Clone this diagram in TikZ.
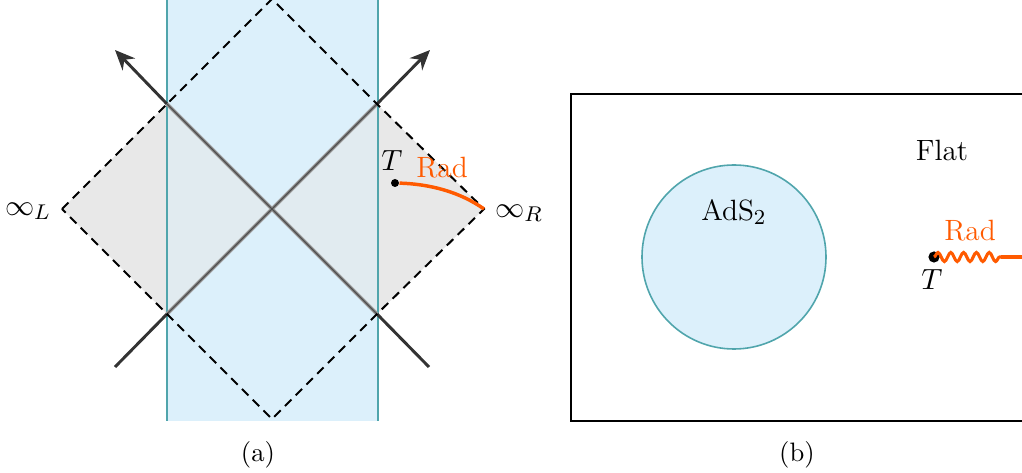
\documentclass[tikz,border=0pt]{standalone}
\usetikzlibrary{arrows.meta,decorations.pathmorphing}
\definecolor{radorange}{RGB}{255,90,0}
\definecolor{discblue}{RGB}{220,240,251}
\definecolor{overlapblue}{RGB}{225,235,240}
\definecolor{tealedge}{RGB}{80,165,172}
\definecolor{wedgegray}{RGB}{232,232,232}
\definecolor{darkline}{RGB}{51,51,51}
\tikzset{
  bound/.style={black, line width=0.75pt, dash pattern=on 3.4pt off 2.3pt},
  ray/.style={darkline, line width=1.1pt},
  rayarrow/.style={ray, -{Stealth[length=7.5pt,width=6.5pt]}},
  horizonhalo/.style={black!40, line width=1.35pt},
  horizoncore/.style={black!70, line width=0.45pt},
  radline/.style={radorange, line width=1.3pt},
  lab/.style={font=\fontsize{11}{13}\selectfont, inner sep=1pt},
  captext/.style={font=\fontsize{10}{12}\selectfont, inner sep=1pt},
  blackdot/.style={circle, fill=black, inner sep=0pt},
}
\begin{document}
\begin{tikzpicture}[x=0.375pt,y=-0.375pt]
\useasboundingbox (0,0) rectangle (1022,473);
\clip (0,0) rectangle (1022,473);
% ---------- (a) ----------
\coordinate (C) at (272,209);
\coordinate (infL) at (62,209);
\coordinate (infRc) at (484,209);
\coordinate (UL) at (167,104);
\coordinate (UR) at (377,104);
\coordinate (LL) at (167,314);
\coordinate (LR) at (377,314);
\coordinate (Top) at (272,-1);
\coordinate (Bot) at (272,419);
% strip
\fill[discblue] (167,-5) rectangle (378,421);
% gray wedges
\fill[wedgegray] (infL) -- (UL) -- (C) -- (LL) -- cycle;
\fill[wedgegray] (infRc) -- (UR) -- (C) -- (LR) -- cycle;
\fill[overlapblue] (UL) -- (C) -- (LL) -- cycle;
\fill[overlapblue] (UR) -- (C) -- (LR) -- cycle;
\draw[tealedge, line width=0.5pt] (167,-5) -- (167,421);
\draw[tealedge, line width=0.5pt] (378,-5) -- (378,421);
% rays
\coordinate (ArL) at (115,50);
\coordinate (ArR) at (430,50);
\coordinate (EnL) at (115,367);
\coordinate (EnR) at (429,367);
\draw[rayarrow] (UL) -- (ArL);
\draw[rayarrow] (UR) -- (ArR);
\draw[ray] (LL) -- (EnL);
\draw[ray] (LR) -- (EnR);
\draw[horizonhalo] (UL) -- (LR);
\draw[horizonhalo] (LL) -- (UR);
\draw[horizoncore] (UL) -- (LR);
\draw[horizoncore] (LL) -- (UR);
% dashed boundary
\draw[bound] (infL) -- (UL) -- (Top) -- (UR) -- (infRc) -- (LR) -- (Bot) -- (LL) -- cycle;
% labels
\node[lab] (linfL) at (28,211) {$\infty_L$};
\node[lab] (linfR) at (519,213) {$\infty_R$};
\node[blackdot, minimum size=3pt] (Ta) at (395,183) {};
\node[lab] (Tal) at (392,161) {$T$};
\node[lab, text=radorange] (Rada) at (442,168) {Rad};
\draw[radline] (Ta) .. controls (430,184) and (460,192) .. (infRc);
\node[captext] (capa) at (258,455) {(a)};
% ---------- (b) ----------
\draw[black, line width=0.85pt] (571,94) rectangle (1040,421);
\node[circle, draw=tealedge, fill=discblue, line width=0.6pt, minimum size=69pt, inner sep=0pt] (ads) at (734,257) {};
\node[lab] (adsl) at (734,212) {AdS$_2$};
\node[lab] (flat) at (942,150) {Flat};
\node[blackdot, minimum size=4.2pt] (Tb) at (934,257) {};
\node[lab] (Tbl) at (932,280) {$T$};
\node[lab, text=radorange] (Radb) at (970,231) {Rad};
\coordinate (wavend) at (1001,257);
\coordinate (farR) at (1040,257);
\draw[radline, line width=1.15pt, decorate, decoration={snake, segment length=4.8pt, amplitude=1.7pt}] (Tb.center) -- (wavend);
\draw[radline, line width=1.15pt] (wavend) -- (farR);
\node[captext] (capb) at (797,455) {(b)};
\end{tikzpicture}
\end{document}
